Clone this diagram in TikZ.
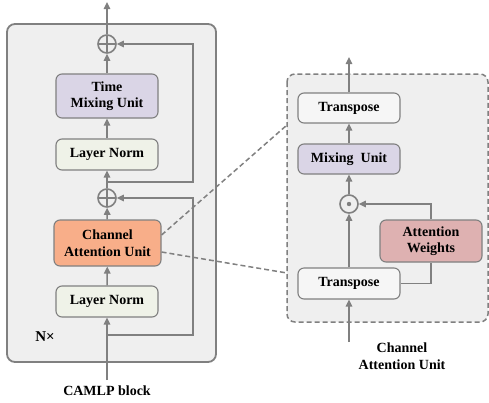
\documentclass[tikz,border=0pt]{standalone}
\usepackage{fontspec}
\setmainfont{Liberation Serif}
\usetikzlibrary{arrows.meta,calc}

\definecolor{linegray}{HTML}{808080}
\definecolor{panelgray}{HTML}{EFEFEF}
\definecolor{mixfill}{HTML}{DAD5E6}
\definecolor{normfill}{HTML}{EFF2E8}
\definecolor{caufill}{HTML}{F8AE89}
\definecolor{weightfill}{HTML}{DEB1B1}
\definecolor{transfill}{HTML}{F6F6F6}

\tikzset{
  unitbox/.style={draw=linegray, line width=1.1pt, rounded corners=6pt,
    minimum width=102pt, align=center, inner sep=0pt,
    font=\bfseries\fontsize{14}{16.5}\selectfont},
  arr/.style={draw=linegray, line width=1.5pt, -{Triangle[length=7pt,width=6.5pt]}},
  plain/.style={draw=linegray, line width=1.5pt},
  opcirc/.style={circle, draw=linegray, line width=1.6pt, minimum size=18pt, inner sep=0pt},
  lbl/.style={font=\bfseries\fontsize{14}{16.5}\selectfont, align=center},
}

\begin{document}
\begin{tikzpicture}[x=1pt, y=-1pt]

  \useasboundingbox (0,0) rectangle (489,402);

  % CAMLP block
  \draw[draw=linegray, fill=panelgray, line width=1.8pt, rounded corners=8pt]
  (7,24) rectangle (216,362);

  \node[unitbox, fill=normfill, minimum height=31pt] (lnB) at (107,301.5) {Layer Norm};
  \node[unitbox, fill=caufill, minimum width=107pt, minimum height=46pt] (cau) at (107.5,243) {Channel\\Attention Unit};
  \node[opcirc, path picture={
      \draw[linegray, line width=1.6pt]
      (path picture bounding box.north) -- (path picture bounding box.south)
      (path picture bounding box.west) -- (path picture bounding box.east);}] (addB) at (107,198) {};
  \node[unitbox, fill=normfill, minimum height=31pt] (lnA) at (107,154.5) {Layer Norm};
  \node[unitbox, fill=mixfill, minimum height=44pt] (tmu) at (107,96) {Time\\Mixing Unit};
  \node[opcirc, path picture={
      \draw[linegray, line width=1.6pt]
      (path picture bounding box.north) -- (path picture bounding box.south)
      (path picture bounding box.west) -- (path picture bounding box.east);}] (addA) at (107,44) {};

  \coordinate (inL) at (107,380);
  \coordinate (outL) at (107,2);
  \coordinate (skipB) at (107,335);
  \coordinate (skipA) at (107,182);

  \draw[arr] (inL) -- (lnB);
  \draw[arr] (lnB) -- (cau);
  \draw[arr] (cau) -- (addB);
  \draw[arr] (addB) -- (lnA);
  \draw[arr] (lnA) -- (tmu);
  \draw[arr] (tmu) -- (addA);
  \draw[arr] (addA) -- (outL);

  \draw[arr] (skipB) -- (193,335) |- (addB.east);
  \draw[arr] (skipA) -- (193,182) |- (addA.east);

  \node[lbl, font=\bfseries\fontsize{15}{16.5}\selectfont] (nx) at (45,337) {N×};
  \node[lbl] (camlp) at (107,391) {CAMLP block};

  % channel attention unit, zoomed
  \draw[draw=linegray, fill=panelgray, line width=1.5pt, dash pattern=on 5pt off 3pt, rounded corners=8pt]
  (287,74) rectangle (488,322);

  \node[unitbox, fill=transfill, minimum height=31pt] (trB) at (349,283.5) {Transpose};
  \node[unitbox, fill=weightfill, minimum height=42pt] (aw) at (431,241) {Attention\\Weights};
  \node[opcirc, path picture={
      \fill[linegray] (path picture bounding box.center) circle (2.2pt);}] (mul) at (349,204) {};
  \node[unitbox, fill=mixfill, minimum height=30pt] (mix) at (349,159) {Mixing\ \ Unit};
  \node[unitbox, fill=transfill, minimum height=30pt] (trA) at (349,108) {Transpose};

  \coordinate (inR) at (349,342);
  \coordinate (outR) at (349,57);

  \draw[arr] (inR) -- (trB);
  \draw[arr] (trB) -- (mul);
  \draw[arr] (mul) -- (mix);
  \draw[arr] (mix) -- (trA);
  \draw[arr] (trA) -- (outR);

  \draw[plain] (trB.east) -| (aw.south);
  \draw[arr] (aw.north) |- (mul.east);

  \node[lbl] (caulbl) at (402,356) {Channel\\Attention Unit};

  % zoom lines
  \coordinate (zoomA) at (287,125);
  \coordinate (zoomB) at (287,273);
  \draw[draw=linegray, line width=1.5pt, dash pattern=on 5pt off 3pt]
  ([yshift=8pt]cau.east) -- (zoomA);
  \draw[draw=linegray, line width=1.5pt, dash pattern=on 5pt off 3pt]
  ([yshift=-9pt]cau.east) -- (zoomB);

\end{tikzpicture}
\end{document}
